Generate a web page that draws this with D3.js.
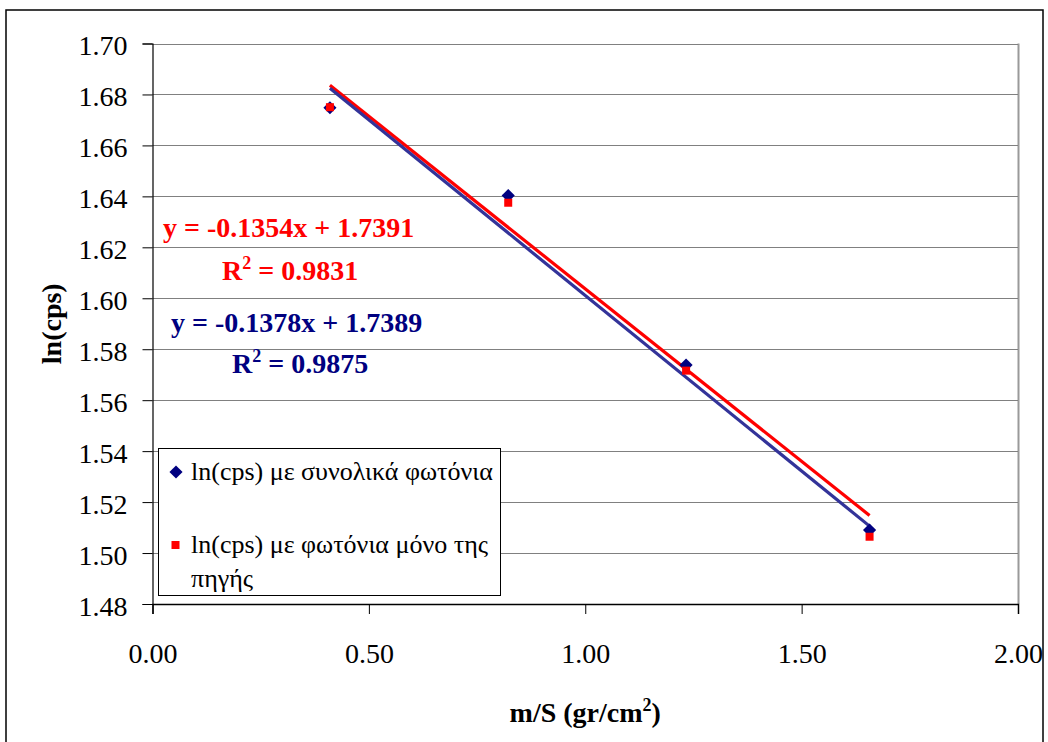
<!DOCTYPE html>
<html>
<head>
<meta charset="utf-8">
<script src="https://cdn.jsdelivr.net/npm/d3@7"></script>
<style>
  html, body { margin: 0; padding: 0; background: #fff; }
  svg { display: block; }
  text { font-family: "Liberation Serif", "Times New Roman", serif; fill: #000; }
</style>
</head>
<body>
<svg id="chart" width="1048" height="742"></svg>
<script>
// Areal density of the absorber (gr/cm^2)
const massPerArea = [0.410, 0.822, 1.233, 1.657];
// ln(cps) using all photons
const lnTotal = [1.6748, 1.6403, 1.5738, 1.5090];
// ln(cps) using only source photons
const lnSource = [1.6750, 1.6375, 1.5716, 1.5064];

const seriesNames = ["ln(cps) με συνολικά φωτόνια", "ln(cps) με φωτόνια μόνο της", "πηγής"];

// Linear fit coefficients [slope, intercept, R^2]
const fitTotal = [-0.1378, 1.7389, 0.9875];
const fitSource = [-0.1354, 1.7391, 0.9831];

const xTicks = [0, 0.5, 1.0, 1.5, 2.0];
const yTicks = [1.48, 1.50, 1.52, 1.54, 1.56, 1.58, 1.60, 1.62, 1.64, 1.66, 1.68, 1.70];

const svg = d3.select("#chart");

const x = d3.scaleLinear().domain([0, 2]).range([152.5, 1018]);
const y = d3.scaleLinear().domain([1.48, 1.70]).range([604, 43.5]);

// outer chart frame
svg.append("rect")
  .attr("x", 6).attr("y", 10)
  .attr("width", 1037).attr("height", 740)
  .attr("fill", "#fff").attr("stroke", "#000").attr("stroke-width", 1.5);

// plot area right border
svg.append("line")
  .attr("x1", x(2) + 0.5).attr("x2", x(2) + 0.5)
  .attr("y1", y(1.70)).attr("y2", y(1.48))
  .attr("stroke", "#9a9a9a").attr("stroke-width", 2);

// horizontal gridlines
svg.append("g").selectAll("line")
  .data(yTicks)
  .join("line")
  .attr("x1", x(0)).attr("x2", x(2))
  .attr("y1", d => Math.round(y(d)) + 0.5).attr("y2", d => Math.round(y(d)) + 0.5)
  .attr("stroke", "#808080").attr("stroke-width", 1);

// y axis
const yAxis = svg.append("g")
  .attr("transform", `translate(${x(0)},0)`)
  .call(d3.axisLeft(y).tickValues(yTicks).tickSize(10).tickPadding(15)
    .tickFormat(d3.format(".2f")));
yAxis.selectAll("text").attr("font-size", 28).attr("dy", "0.4em")
  .style("font-family", "'Liberation Serif', serif");
yAxis.select(".domain").attr("stroke", "#000").attr("stroke-width", 1.2);

// x axis
const xAxis = svg.append("g")
  .attr("transform", `translate(0,${y(1.48)})`)
  .call(d3.axisBottom(x).tickValues(xTicks).tickSize(10).tickPadding(29)
    .tickFormat(d3.format(".2f")));
xAxis.selectAll("text").attr("font-size", 28)
  .style("font-family", "'Liberation Serif', serif");
xAxis.select(".domain").attr("stroke", "#000").attr("stroke-width", 1.5);

// trendlines drawn from the fitted equations
const xMin = d3.min(massPerArea), xMax = d3.max(massPerArea);
function fitLine(fit, color) {
  svg.append("line")
    .attr("x1", x(xMin)).attr("y1", y(fit[0] * xMin + fit[1]))
    .attr("x2", x(xMax)).attr("y2", y(fit[0] * xMax + fit[1]))
    .attr("stroke", color).attr("stroke-width", 3.2);
}
fitLine(fitSource, "#ff0000");
fitLine(fitTotal, "#333399");

// markers: navy diamonds for all photons, red squares for source-only
const diamond = d3.symbol().type(d3.symbolDiamond2).size(110);
svg.append("g").selectAll("path")
  .data(massPerArea.map((m, i) => [m, lnTotal[i]]))
  .join("path")
  .attr("d", diamond)
  .attr("transform", d => `translate(${x(d[0])},${y(d[1])})`)
  .attr("fill", "#000080");

svg.append("g").selectAll("rect")
  .data(massPerArea.map((m, i) => [m, lnSource[i]]))
  .join("rect")
  .attr("x", d => x(d[0]) - 4).attr("y", d => y(d[1]) - 4)
  .attr("width", 8).attr("height", 8)
  .attr("fill", "#ff0000");

// regression equation labels
function equation(fit, color, x0, yb, xr, yr) {
  const sign = fit[1] >= 0 ? "+" : "-";
  svg.append("text")
    .attr("x", x0).attr("y", yb)
    .attr("font-size", 28).attr("font-weight", "bold").attr("fill", color)
    .style("fill", color)
    .text(`y = ${fit[0].toFixed(4)}x ${sign} ${Math.abs(fit[1]).toFixed(4)}`);
  const t = svg.append("text")
    .attr("x", xr).attr("y", yr)
    .attr("font-size", 28).attr("font-weight", "bold")
    .style("fill", color);
  t.append("tspan").text("R");
  t.append("tspan").attr("font-size", 18).attr("dy", -11).text("2");
  t.append("tspan").attr("dy", 11).text(` = ${fit[2].toFixed(4)}`);
}
equation(fitSource, "#ff0000", 163, 237, 222, 280);
equation(fitTotal, "#000080", 171, 332, 232, 373);

// legend
const lg = svg.append("g");
lg.append("rect")
  .attr("x", 158.5).attr("y", 448.5).attr("width", 342).attr("height", 147)
  .attr("fill", "#fff").attr("stroke", "#000").attr("stroke-width", 1);
lg.append("path").attr("d", diamond)
  .attr("transform", "translate(176,472)").attr("fill", "#000080");
lg.append("rect").attr("x", 171.5).attr("y", 541).attr("width", 8).attr("height", 8)
  .attr("fill", "#ff0000");
lg.append("text").attr("x", 191).attr("y", 480).attr("font-size", 26).text(seriesNames[0]);
lg.append("text").attr("x", 191).attr("y", 553).attr("font-size", 26).text(seriesNames[1]);
lg.append("text").attr("x", 191).attr("y", 587).attr("font-size", 26).text(seriesNames[2]);

// axis titles
const xt = svg.append("text")
  .attr("x", (x(0) + x(2)) / 2).attr("y", 722)
  .attr("text-anchor", "middle")
  .attr("font-size", 28).attr("font-weight", "bold");
xt.append("tspan").text("m/S (gr/cm");
xt.append("tspan").attr("font-size", 18).attr("dy", -11).text("2");
xt.append("tspan").attr("dy", 11).text(")");

svg.append("text")
  .attr("transform", `translate(61,${(y(1.48) + y(1.70)) / 2}) rotate(-90)`)
  .attr("text-anchor", "middle")
  .attr("font-size", 28).attr("font-weight", "bold")
  .text("ln(cps)");
</script>
</body>
</html>
